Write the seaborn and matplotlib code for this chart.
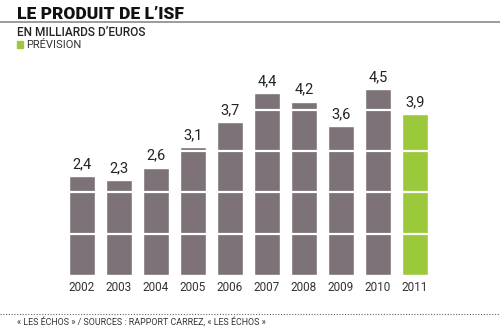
import matplotlib
matplotlib.use("Agg")
import matplotlib.pyplot as plt
import seaborn as sns
import pandas as pd
from matplotlib.lines import Line2D

years = ["2002", "2003", "2004", "2005", "2006", "2007", "2008", "2009", "2010", "2011"]
values = [2.4, 2.3, 2.6, 3.1, 3.7, 4.4, 4.2, 3.6, 4.5, 3.9]
status = ["réel"] * 9 + ["prévision"]

title = "LE PRODUIT DE L\u2019ISF"
subtitle = "EN MILLIARDS D\u2019EUROS"
legend_label = "PRÉVISION"
source = "« LES ÉCHOS » / SOURCES : RAPPORT CARREZ, « LES ÉCHOS »"

GREY = "#7c7277"
GREEN = "#9cc83c"

sns.set_theme(style="white")
plt.rcParams["font.family"] = ["Roboto", "DejaVu Sans"]

df = pd.DataFrame({"annee": years, "isf": values, "statut": status})

fig = plt.figure(figsize=(5.0, 3.27), dpi=100)
ax = fig.add_axes([0.127, 0.159, 0.74, 0.6315])

sns.barplot(data=df, x="annee", y="isf", hue="statut",
            palette={"réel": GREY, "prévision": GREEN},
            dodge=False, width=0.7, saturation=1, legend=False, ax=ax)

ax.set_xlim(-0.5, len(years) - 0.5)
ax.set_ylim(0, 5)

# white separators every billion, across the bars
for y in range(1, 5):
    ax.axhline(y, color="white", lw=1.6, zorder=5)

for i, v in enumerate(values):
    ax.text(i, v + 0.12, f"{v:.1f}".replace(".", ","), ha="center", va="bottom",
            fontsize=10.5, color="#222222", zorder=10)

ax.set_xlabel("")
ax.set_ylabel("")
ax.set_yticks([])
ax.tick_params(axis="x", length=0, pad=4, labelsize=8.5, labelcolor="#333333")
for s in ax.spines.values():
    s.set_visible(False)

# header
fig.text(17 / 500, 1 - 14 / 327, title, fontsize=12.5, fontweight="black",
         color="#111111", va="center", ha="left")
fig.add_artist(Line2D([0, 1], [1 - 21.5 / 327] * 2, color="#8a8a8a", lw=1.2))
fig.text(17 / 500, 1 - 32 / 327, subtitle, fontsize=8.6, fontweight="medium",
         color="#222222", va="center", ha="left")
fig.add_artist(plt.Rectangle((17 / 500, 1 - 48 / 327), 6 / 500, 7 / 327,
                             color=GREEN, transform=fig.transFigure))
fig.text(26 / 500, 1 - 44.5 / 327, legend_label, fontsize=8, color="#333333",
         va="center", ha="left")

# footer
fig.add_artist(Line2D([0, 1], [1 - 313.5 / 327] * 2, color="#666666", lw=0.8,
                      linestyle=(0, (1, 1.5))))
fig.text(17 / 500, 1 - 321.5 / 327, source, fontsize=6.4, color="#333333",
         va="center", ha="left")

fig.savefig("out.png", dpi=100, facecolor="white")
